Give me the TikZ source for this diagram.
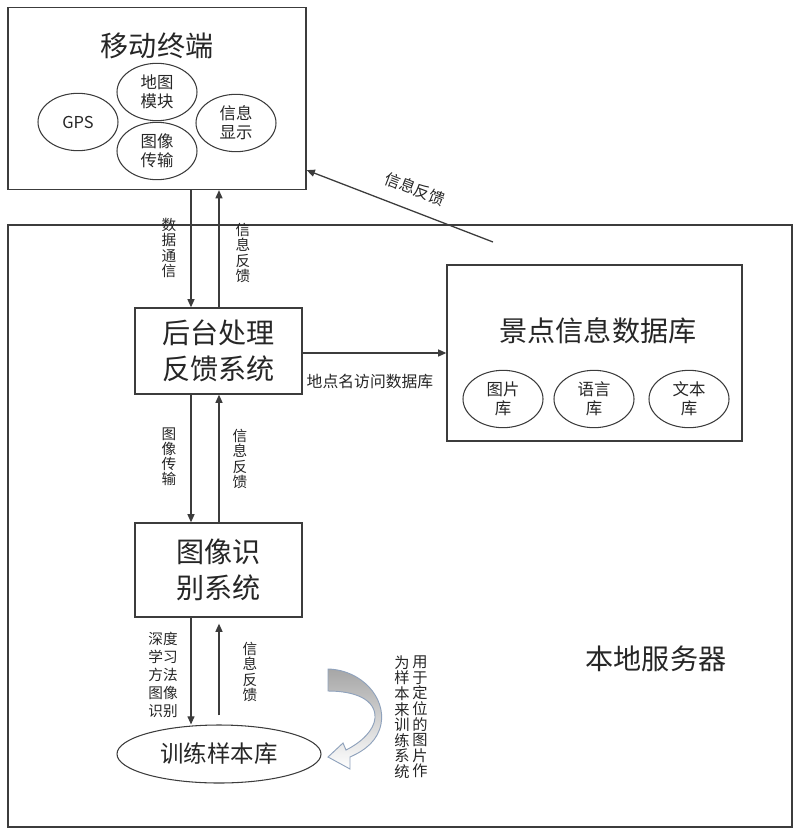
\documentclass[tikz,border=0pt]{standalone}
\usepackage{fontspec}
\setmainfont{Noto Sans CJK SC}
\usetikzlibrary{arrows.meta,shapes.geometric}
\definecolor{ink}{HTML}{262626}
\definecolor{line}{HTML}{3C3C3C}
\definecolor{bendline}{HTML}{8FA2BC}
\definecolor{bendfill}{HTML}{A6A6A6}

\begin{document}
\begin{tikzpicture}[
  x=0.03cm,
  y=-0.03cm,
  text=ink,
  frame/.style={
    draw=line,
    line width=1.1pt,
    inner sep=0pt
  },
  module/.style={
    ellipse,
    draw=line,
    line width=0.9pt,
    inner sep=0pt,
    align=center,
    minimum width=2.4cm,
    minimum height=1.72cm,
    font=\fontsize{14}{16}\selectfont
  },
  title/.style={font=\fontsize{24}{31}\selectfont, align=center},
  arrow/.style={-{Triangle[length=7pt,width=6pt]}, draw=line, line width=1.1pt},
  vlabel/.style={font=\fontsize{12.5}{12.9}\selectfont, align=center, inner sep=0pt},
  note/.style={font=\fontsize{13.5}{16}\selectfont, inner sep=2pt}
]
\useasboundingbox (0,0) rectangle (800,836);

% Mobile terminal
\node[frame, minimum width=8.94cm, minimum height=5.46cm] (mobile) at (157,98.5) {};
\node[title] (mobiletitle) at (157,46) {移动终端};
\node[module] (map) at (157,92) {地图\\模块};
\node[module] (gps) at (78,122) {GPS};
\node[module] (imgsend) at (157,151) {图像\\传输};
\node[module] (display) at (236,123) {信息\\显示};

% Local server and its systems
\node[frame, minimum width=23.52cm, minimum height=18.06cm] (server) at (400,526) {};
\node[title] (servertitle) at (656,659) {本地服务器};
\node[frame, title, minimum width=5.01cm, minimum height=2.58cm] (backend) at (218.5,351) {后台处理\\反馈系统};
\node[frame, title, minimum width=5.01cm, minimum height=2.82cm] (recog) at (218.5,570) {图像识\\别系统};
\node[ellipse, draw=line, line width=0.9pt, inner sep=0pt, minimum width=6.12cm, minimum height=1.74cm,
  font=\fontsize{20}{24}\selectfont] (samples) at (219,754) {训练样本库};

% Scenic spot database
\node[frame, minimum width=8.85cm, minimum height=5.28cm] (db) at (594.5,353) {};
\node[title] (dbtitle) at (598,331) {景点信息数据库};
\node[module] (piclib) at (503,399) {图片\\库};
\node[module] (langlib) at (594,399) {语言\\库};
\node[module] (textlib) at (689,399) {文本\\库};

% Vertical links
\coordinate (downlane) at (191,0);
\coordinate (uplane) at (219,0);
\draw[arrow] (mobile.south -| downlane) -- (backend.north -| downlane);
\draw[arrow] (backend.north -| uplane) -- (mobile.south -| uplane);
\draw[arrow] (backend.south -| downlane) -- (recog.north -| downlane);
\draw[arrow] (recog.north -| uplane) -- (backend.south -| uplane);
\draw[arrow] (recog.south -| downlane) -- (samples.north -| downlane);
\draw[arrow, shorten <=2.7mm, shorten >=1.8mm] (samples.north -| uplane) -- (recog.south -| uplane);

\node[vlabel] (datacomm) at (169,248) {数\\据\\通\\信};
\node[vlabel] (feedback1) at (243,253) {信\\息\\反\\馈};
\node[vlabel] (imgtrans) at (169,457) {图\\像\\传\\输};
\node[vlabel] (feedback2) at (240,459) {信\\息\\反\\馈};
\node[vlabel, font=\fontsize{12.5}{15.3}\selectfont] (deeplearn) at (163,675) {深度\\学习\\方法\\图像\\识别};
\node[vlabel] (feedback3) at (250,672) {信\\息\\反\\馈};

% Database query and feedback to terminal
\draw[arrow] (db.west -| backend.east) -- (db.west);
\node[note] (dbquery) at (370,381) {地点名访问数据库};

\coordinate (fbstart) at (493,242);
\draw[arrow] (fbstart) -- ([yshift=0.6cm]mobile.south east)
  node[note, pos=0.46, sloped, above=3.3mm] (feedbackdiag) {信息反馈};

% Curved arrow for training samples
\path[draw=bendline, line width=0.8pt, top color=bendfill, bottom color=white]
  (328,669) .. controls (362,670) and (386,698) .. (381,724)
  .. controls (378,740) and (366,750) .. (350,757)
  -- (350,769) -- (328,757) -- (343,743) -- (346,750)
  .. controls (362,742) and (374,730) .. (375,718)
  .. controls (376,700) and (356,691) .. (328,691) -- cycle;
\node[vlabel, font=\fontsize{13}{13.3}\selectfont] (bendnote1) at (420,717) {用\\于\\定\\位\\的\\图\\片\\作};
\node[vlabel, font=\fontsize{13}{13.3}\selectfont] (bendnote2) at (402,717) {为\\样\\本\\来\\训\\练\\系\\统};

\end{tikzpicture}
\end{document}
